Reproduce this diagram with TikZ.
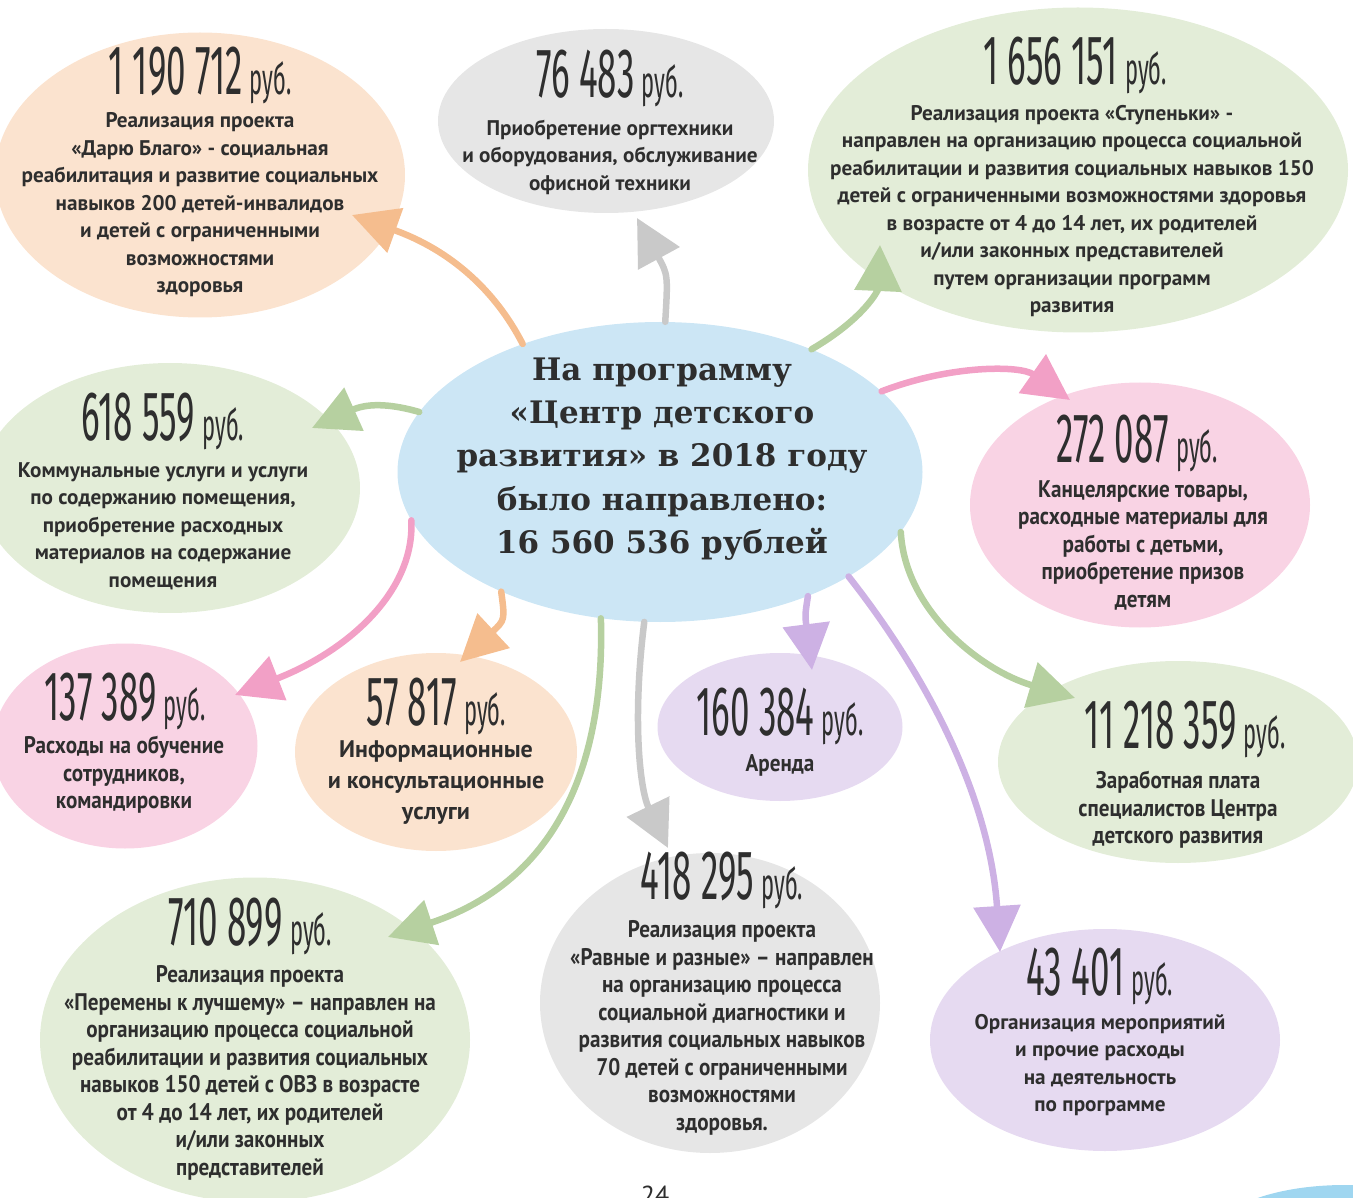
\documentclass[tikz,border=0pt]{standalone}
\usepackage{fontspec}
\setmainfont{PT Sans}
\newfontfamily\numfont[FakeStretch=0.5]{Fira Sans}
\newfontfamily\nrwfont[FakeStretch=0.88]{PT Sans}
\newfontfamily\ctrfont{DejaVu Serif}
\usetikzlibrary{arrows.meta,shapes.geometric}
\definecolor{txt}{HTML}{2E2E2E}
\definecolor{peachB}{HTML}{FBE3CF}
\definecolor{peachA}{HTML}{F5BD8E}
\definecolor{grayB}{HTML}{E6E6E6}
\definecolor{grayA}{HTML}{C9C9C9}
\definecolor{greenB}{HTML}{E3EDD8}
\definecolor{greenA}{HTML}{B6D0A0}
\definecolor{blueB}{HTML}{CCE6F5}
\definecolor{blueC}{HTML}{9FD6F0}
\definecolor{pinkB}{HTML}{F9D3E4}
\definecolor{pinkA}{HTML}{F2A0C6}
\definecolor{purpB}{HTML}{E6DAF1}
\definecolor{purpA}{HTML}{CDB1E4}
\newcommand{\rubl}{{\fontsize{44}{44}\selectfont\,руб.}}
\tikzset{
  blob/.style={ellipse, draw=none, inner sep=0pt},
  num/.style={font=\numfont\fontsize{70}{70}\selectfont, text=txt, anchor=base, inner sep=0pt},
  desc/.style={font=\bfseries\fontsize{21.2}{27.5}\selectfont, align=center, text=txt, inner sep=0pt},
  ndesc/.style={font=\nrwfont\bfseries\fontsize{24}{27.5}\selectfont, align=center, text=txt, inner sep=0pt},
  arr/.style={line width=6.5pt, line cap=round, draw=#1, -{Triangle[length=46pt,width=46pt]}},
}
\begin{document}
\begin{tikzpicture}[x=1pt,y=-1pt]
\useasboundingbox (0,0) rectangle (1353,1198);
% blobs
\node[blob, fill=peachB, minimum width=410, minimum height=285] (b1) at (200,175) {};
\node[blob, fill=grayB, minimum width=336, minimum height=184] (b2) at (606,121) {};
\node[blob, fill=greenB, minimum width=540, minimum height=325] (b3) at (1078,170) {};
\node[blob, fill=greenB, minimum width=380, minimum height=250] (b5) at (170,488) {};
\node[blob, fill=pinkB, minimum width=340, minimum height=245] (b6) at (1140,505) {};
\node[blob, fill=pinkB, minimum width=265, minimum height=205] (b7) at (125,746) {};
\node[blob, fill=peachB, minimum width=282, minimum height=198] (b8) at (436,752) {};
\node[blob, fill=purpB, minimum width=245, minimum height=148] (b9) at (780,727) {};
\node[blob, fill=greenB, minimum width=360, minimum height=202] (b10) at (1178,762) {};
\node[blob, fill=greenB, minimum width=430, minimum height=325] (b11) at (255,1040) {};
\node[blob, fill=grayB, minimum width=340, minimum height=300] (b12) at (710,1003) {};
\node[blob, fill=purpB, minimum width=350, minimum height=222] (b13) at (1105,1040) {};
\node[blob, fill=blueC, minimum width=260, minimum height=100] (corner) at (1345,1235) {};
\node[blob, fill=blueB, minimum width=525, minimum height=300] (c) at (660,472) {};
% arrow tips
\coordinate (t1) at (352,215);
\coordinate (t2) at (637,218);
\coordinate (t3) at (880,245);
\coordinate (t4) at (312,428);
\coordinate (t5) at (235,695);
\coordinate (t6) at (460,662);
\coordinate (t7) at (388,937);
\coordinate (t8) at (668,848);
\coordinate (t9) at (812,670);
\coordinate (t10) at (1000,952);
\coordinate (t11) at (1075,698);
\coordinate (t12) at (1070,400);
% arrows
\draw[arr=peachA] (c.137) .. controls (495,290) and (450,250) .. (t1);
\draw[arr=grayA] (c.88) .. controls (668,275) .. (t2);
\draw[arr=greenA] (c.39) .. controls (865,318) and (878,290) .. (t3);
\draw[arr=greenA] (c.166) .. controls (395,405) and (370,402) .. (t4);
\draw[arr=pinkA] (c.191) .. controls (415,590) and (350,650) .. (t5);
\draw[arr=peachA] (c.217) .. controls (505,620) .. (t6);
\draw[arr=greenA] (c.248) .. controls (605,760) and (560,880) .. (t7);
\draw[arr=grayA] (c.264) .. controls (632,720) and (640,790) .. (t8);
\draw[arr=purpA] (c.320) .. controls (805,615) .. (t9);
\draw[arr=purpA] (c.331) .. controls (930,680) and (990,800) .. (t10);
\draw[arr=greenA] (c.346) .. controls (905,610) and (980,670) .. (t11);
\draw[arr=pinkA] (c.20) .. controls (950,365) and (1020,365) .. (t12);
% center text
\node[font=\ctrfont\bfseries\fontsize{31}{43.3}\selectfont, align=center, text=txt, inner sep=0pt] (ct) at (662,459)
  {На программу\\«Центр детского\\развития» в 2018 году\\было направлено:\\16 560 536 рублей};
% numbers
\node[num] (n1) at (200,95) {1 190 712\rubl};
\node[num] (n2) at (610,98) {76 483\rubl};
\node[num] (n3) at (1075,85) {1 656 151\rubl};
\node[num] (n5) at (163,440) {618 559\rubl};
\node[num] (n6) at (1137,462) {272 087\rubl};
\node[num] (n7) at (125,720) {137 389\rubl};
\node[num] (n8) at (436,725) {57 817\rubl};
\node[num] (n9) at (780,735) {160 384\rubl};
\node[num] (n10) at (1185,748) {11 218 359\rubl};
\node[num] (n11) at (250,945) {710 899\rubl};
\node[num] (n12) at (722,899) {418 295\rubl};
\node[num] (n13) at (1100,995) {43 401\rubl};
% descriptions
\node[desc] (d1) at (200,205) {Реализация проекта\\«Дарю Благо» - социальная\\реабилитация и развитие социальных\\навыков 200 детей-инвалидов\\и детей с ограниченными\\возможностями\\здоровья};
\node[desc] (d2) at (610,157) {Приобретение оргтехники\\и оборудования, обслуживание\\офисной техники};
\node[desc] (d3) at (1072,211) {Реализация проекта «Ступеньки» -\\направлен на организацию процесса социальной\\реабилитации и развития социальных навыков 150\\детей с ограниченными возможностями здоровья\\в возрасте от 4 до 14 лет, их родителей\\и/или законных представителей\\путем организации программ\\развития};
\node[desc] (d5) at (163,526) {Коммунальные услуги и услуги\\по содержанию помещения,\\приобретение расходных\\материалов на содержание\\помещения};
\node[ndesc] (d6) at (1143,545) {Канцелярские товары,\\расходные материалы для\\работы с детьми,\\приобретение призов\\детям};
\node[ndesc] (d7) at (124,775) {Расходы на обучение\\сотрудников,\\командировки};
\node[desc, font=\bfseries\fontsize{24}{31}\selectfont] (d8) at (436,783) {Информационные\\и консультационные\\услуги};
\node[ndesc] (d9) at (780,765) {Аренда};
\node[ndesc] (d10) at (1178,810) {Заработная плата\\специалистов Центра\\детского развития};
\node[ndesc] (d11) at (250,1073) {Реализация проекта\\«Перемены к лучшему» – направлен на\\организацию процесса социальной\\реабилитации и развития социальных\\навыков 150 детей с ОВЗ в возрасте\\от 4 до 14 лет, их родителей\\и/или законных\\представителей};
\node[ndesc] (d12) at (722,1028) {Реализация проекта\\«Равные и разные» – направлен\\на организацию процесса\\социальной диагностики и\\развития социальных навыков\\70 детей с ограниченными\\возможностями\\здоровья.};
\node[desc] (d13) at (1100,1065) {Организация мероприятий\\и прочие расходы\\на деятельность\\по программе};
\node[font=\fontsize{26}{26}\selectfont, text=txt, anchor=north, inner sep=0pt] (pg) at (655,1186) {24};
\end{tikzpicture}
\end{document}
